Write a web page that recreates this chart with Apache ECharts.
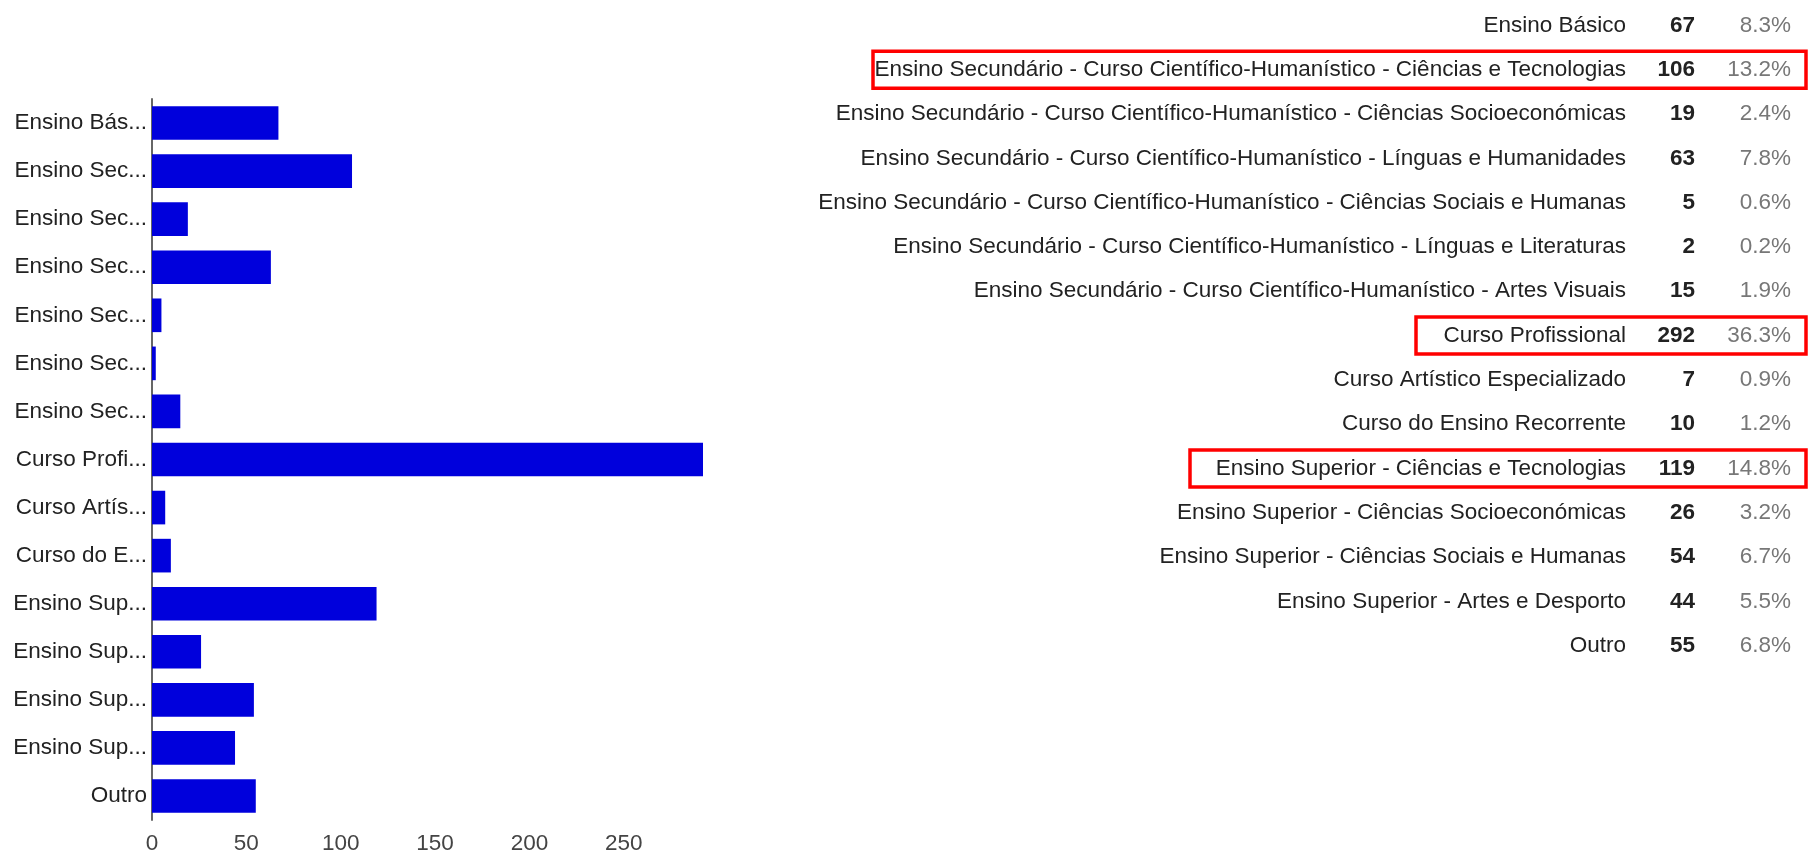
<!DOCTYPE html>
<html>
<head>
<meta charset="utf-8">
<title>Nível de ensino</title>
<script src="https://cdn.jsdelivr.net/npm/echarts@6/dist/echarts.min.js"></script>
<style>
  html, body { margin: 0; padding: 0; background: #fff; }
  #chart { width: 1808px; height: 855px; }
</style>
</head>
<body>
<div id="chart"></div>
<script>
// dados
const categories = [
  'Ensino Básico',
  'Ensino Secundário - Curso Científico-Humanístico - Ciências e Tecnologias',
  'Ensino Secundário - Curso Científico-Humanístico - Ciências Socioeconómicas',
  'Ensino Secundário - Curso Científico-Humanístico - Línguas e Humanidades',
  'Ensino Secundário - Curso Científico-Humanístico - Ciências Sociais e Humanas',
  'Ensino Secundário - Curso Científico-Humanístico - Línguas e Literaturas',
  'Ensino Secundário - Curso Científico-Humanístico - Artes Visuais',
  'Curso Profissional',
  'Curso Artístico Especializado',
  'Curso do Ensino Recorrente',
  'Ensino Superior - Ciências e Tecnologias',
  'Ensino Superior - Ciências Socioeconómicas',
  'Ensino Superior - Ciências Sociais e Humanas',
  'Ensino Superior - Artes e Desporto',
  'Outro'
]
const counts = [67, 106, 19, 63, 5, 2, 15, 292, 7, 10, 119, 26, 54, 44, 55]
const percents = ['8.3%', '13.2%', '2.4%', '7.8%', '0.6%', '0.2%', '1.9%', '36.3%', '0.9%', '1.2%', '14.8%', '3.2%', '6.7%', '5.5%', '6.8%']
const highlightRows = [1, 7, 10]

// layout da tabela
const FONT = 'Arial, "Liberation Sans", sans-serif'
const FS = 22.5
const rowTop = 25.4
const rowStep = 44.3
const colLabel = 1626
const colCount = 1695
const colPct = 1791
const boxLeft = { 1: 873, 7: 1416, 10: 1190 }

const chart = echarts.init(document.getElementById('chart'))

const graphics = []
categories.forEach((name, i) => {
  const y = rowTop + rowStep * i
  graphics.push({
    type: 'text', x: colLabel, y: y,
    style: { text: name, align: 'right', verticalAlign: 'middle', font: FS + 'px ' + FONT, fill: '#222' }
  })
  graphics.push({
    type: 'text', x: colCount, y: y,
    style: { text: String(counts[i]), align: 'right', verticalAlign: 'middle', font: 'bold ' + FS + 'px ' + FONT, fill: '#222' }
  })
  graphics.push({
    type: 'text', x: colPct, y: y,
    style: { text: percents[i], align: 'right', verticalAlign: 'middle', font: FS + 'px ' + FONT, fill: '#777' }
  })
})

// caixas vermelhas
highlightRows.forEach(i => {
  const y = rowTop + rowStep * i
  graphics.push({
    type: 'rect',
    shape: { x: boxLeft[i], y: y - 18.5, width: 1806 - boxLeft[i], height: 37 },
    style: { fill: 'none', stroke: '#ff0000', lineWidth: 3.5 },
    z: 10
  })
})

const option = {
  animation: false,
  grid: { left: 152, top: 99, width: 551, height: 723, containLabel: false },
  xAxis: {
    type: 'value',
    min: 0,
    max: 292,
    interval: 50,
    axisLine: { show: false },
    axisTick: { show: false },
    splitLine: { show: false },
    axisLabel: {
      showMaxLabel: false,
      color: '#444',
      fontFamily: FONT,
      fontSize: FS,
      margin: 12
    }
  },
  yAxis: {
    type: 'category',
    inverse: true,
    data: categories,
    axisLine: { show: true, lineStyle: { color: '#666', width: 2 } },
    axisTick: { show: false },
    axisLabel: {
      color: '#222',
      fontFamily: FONT,
      fontSize: FS,
      margin: 5,
      width: 138,
      overflow: 'truncate',
      ellipsis: '...'
    }
  },
  series: [
    {
      type: 'bar',
      data: counts,
      barCategoryGap: '30%',
      itemStyle: { color: '#0000dc' }
    }
  ],
  graphic: graphics
}

chart.setOption(option)
</script>
</body>
</html>
